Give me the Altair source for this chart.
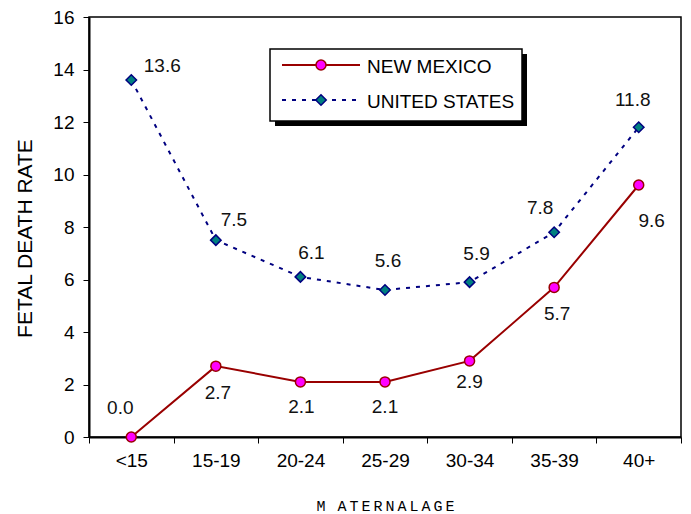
import altair as alt
import pandas as pd

# ---------------- data ----------------
age_groups = ["<15", "15-19", "20-24", "25-29", "30-34", "35-39", "40+"]
nm_rates = [0.0, 2.7, 2.1, 2.1, 2.9, 5.7, 9.6]
us_rates = [13.6, 7.5, 6.1, 5.6, 5.9, 7.8, 11.8]
series_names = ["NEW MEXICO", "UNITED STATES"]
y_ticks = [0, 2, 4, 6, 8, 10, 12, 14, 16]

# data-label placement offsets (pixels, relative to the point)
nm_label_dx = [-11, 2, 1, 0, 0, 3, 13]
nm_label_dy = [-29, 27, 25, 25, 21, 27, 36]
us_label_dx = [31, 18, 11, 3, 7, -14, -6]
us_label_dy = [-14, -20, -24, -29, -28, -24, -27]

# ---------------- styles ----------------
FONT = "Liberation Sans"
NM_LINE = "#990000"
NM_FILL = "#FF00FF"
US_LINE = "#000080"
US_FILL = "#008080"
W, H = 592, 420

rows = []
for i, a in enumerate(age_groups):
    rows.append(dict(age=a, rate=nm_rates[i], series=series_names[0], label=f"{nm_rates[i]:.1f}"))
for i, a in enumerate(age_groups):
    rows.append(dict(age=a, rate=us_rates[i], series=series_names[1], label=f"{us_rates[i]:.1f}"))
df = pd.DataFrame(rows)
nm_df = df[df.series == series_names[0]].reset_index(drop=True)
us_df = df[df.series == series_names[1]].reset_index(drop=True)

xscale = alt.Scale(type="band", domain=age_groups, paddingInner=0, paddingOuter=0)
yscale = alt.Scale(domain=[0, 16], nice=False, zero=True)

x_title = "M \u2009A\u2009T\u2009E\u2009R\u2009N\u2009A\u2009L\u2009A\u2009G\u2009E"

x_enc = alt.X(
    "age:N", scale=xscale, bandPosition=0.5,
    axis=alt.Axis(
        title=x_title,
        tickBand="extent", labelAngle=0, tickSize=6, tickColor="#000", tickWidth=1,
        domainColor="#000", domainWidth=2, labelFont=FONT, labelFontSize=19,
        labelColor="#000", labelPadding=8, grid=False,
        titleFont="Liberation Mono", titleFontSize=15, titleFontWeight="normal",
        titleColor="#000", titleY=68, titleBaseline="middle",
    ),
)
y_enc = alt.Y(
    "rate:Q", scale=yscale,
    axis=alt.Axis(
        title="FETAL DEATH RATE", values=y_ticks, tickSize=6, tickColor="#000",
        domainColor="#000", domainWidth=2, labelFont=FONT, labelFontSize=19,
        labelColor="#000", labelPadding=9, grid=False,
        titleFont=FONT, titleFontSize=21, titleFontWeight="normal", titleColor="#000",
        titleX=-64, titleY=221, titleAngle=270, titleAlign="center",
        titleBaseline="middle",
    ),
)


def series_layers(d, line_color, fill_color, shape, size, dash=None):
    line_kw = dict(color=line_color, strokeWidth=2)
    if dash:
        line_kw["strokeDash"] = dash
    line = alt.Chart(d).mark_line(**line_kw).encode(x=x_enc, y=y_enc)
    pts = alt.Chart(d).mark_point(shape=shape, size=size, filled=True, fill=fill_color,
                                  stroke=line_color, strokeWidth=1.5, opacity=1).encode(
        x=x_enc, y=y_enc)
    return [line, pts]


def label_layers(d, dxs, dys):
    out = []
    for i in range(len(d)):
        out.append(
            alt.Chart(d.iloc[[i]]).mark_text(
                font=FONT, fontSize=19, color="#111", align="center", baseline="middle",
                dx=dxs[i], dy=dys[i]).encode(x=x_enc, y=y_enc, text="label:N")
        )
    return out


one = pd.DataFrame({"k": [0]})
shadow = alt.Chart(one).mark_rect(color="#000").encode(
    x=alt.value(186), x2=alt.value(438), y=alt.value(37), y2=alt.value(109))
box = alt.Chart(one).mark_rect(fill="#fff", stroke="#000", strokeWidth=1.5).encode(
    x=alt.value(181), x2=alt.value(433), y=alt.value(32), y2=alt.value(104))
leg_nm_line = alt.Chart(one).mark_rule(color=NM_LINE, strokeWidth=2).encode(
    x=alt.value(193), x2=alt.value(271), y=alt.value(48))
leg_us_line = alt.Chart(one).mark_rule(color=US_LINE, strokeWidth=2, strokeDash=[4, 6]).encode(
    x=alt.value(193), x2=alt.value(271), y=alt.value(83))
leg_nm_pt = alt.Chart(one).mark_point(shape="circle", size=100, filled=True, fill=NM_FILL,
                                      stroke=NM_LINE, strokeWidth=1.5, opacity=1).encode(
    x=alt.value(232), y=alt.value(48))
leg_us_pt = alt.Chart(one).mark_point(shape="diamond", size=110, filled=True, fill=US_FILL,
                                      stroke=US_LINE, strokeWidth=1.5, opacity=1).encode(
    x=alt.value(232), y=alt.value(83))
leg_nm_txt = alt.Chart(one).mark_text(font=FONT, fontSize=19, align="left", baseline="middle",
                                      color="#000").encode(
    x=alt.value(278), y=alt.value(50), text=alt.value(series_names[0]))
leg_us_txt = alt.Chart(one).mark_text(font=FONT, fontSize=19, align="left", baseline="middle",
                                      color="#000").encode(
    x=alt.value(278), y=alt.value(85), text=alt.value(series_names[1]))

layers = (series_layers(nm_df, NM_LINE, NM_FILL, "circle", 100)
          + series_layers(us_df, US_LINE, US_FILL, "diamond", 110, dash=[4, 6])
          + label_layers(nm_df, nm_label_dx, nm_label_dy)
          + label_layers(us_df, us_label_dx, us_label_dy)
          + [shadow, box, leg_nm_line, leg_us_line, leg_nm_pt, leg_us_pt,
             leg_nm_txt, leg_us_txt])

chart = alt.layer(*layers).properties(
    width=W, height=H,
    autosize=alt.AutoSizeParams(type="none"),
    padding={"left": 81, "top": 9, "right": 2, "bottom": 77},
    background="white",
).configure_view(stroke="#000", strokeWidth=1.5)

chart.save("out.html", embed_options={"renderer": "svg", "actions": False})
